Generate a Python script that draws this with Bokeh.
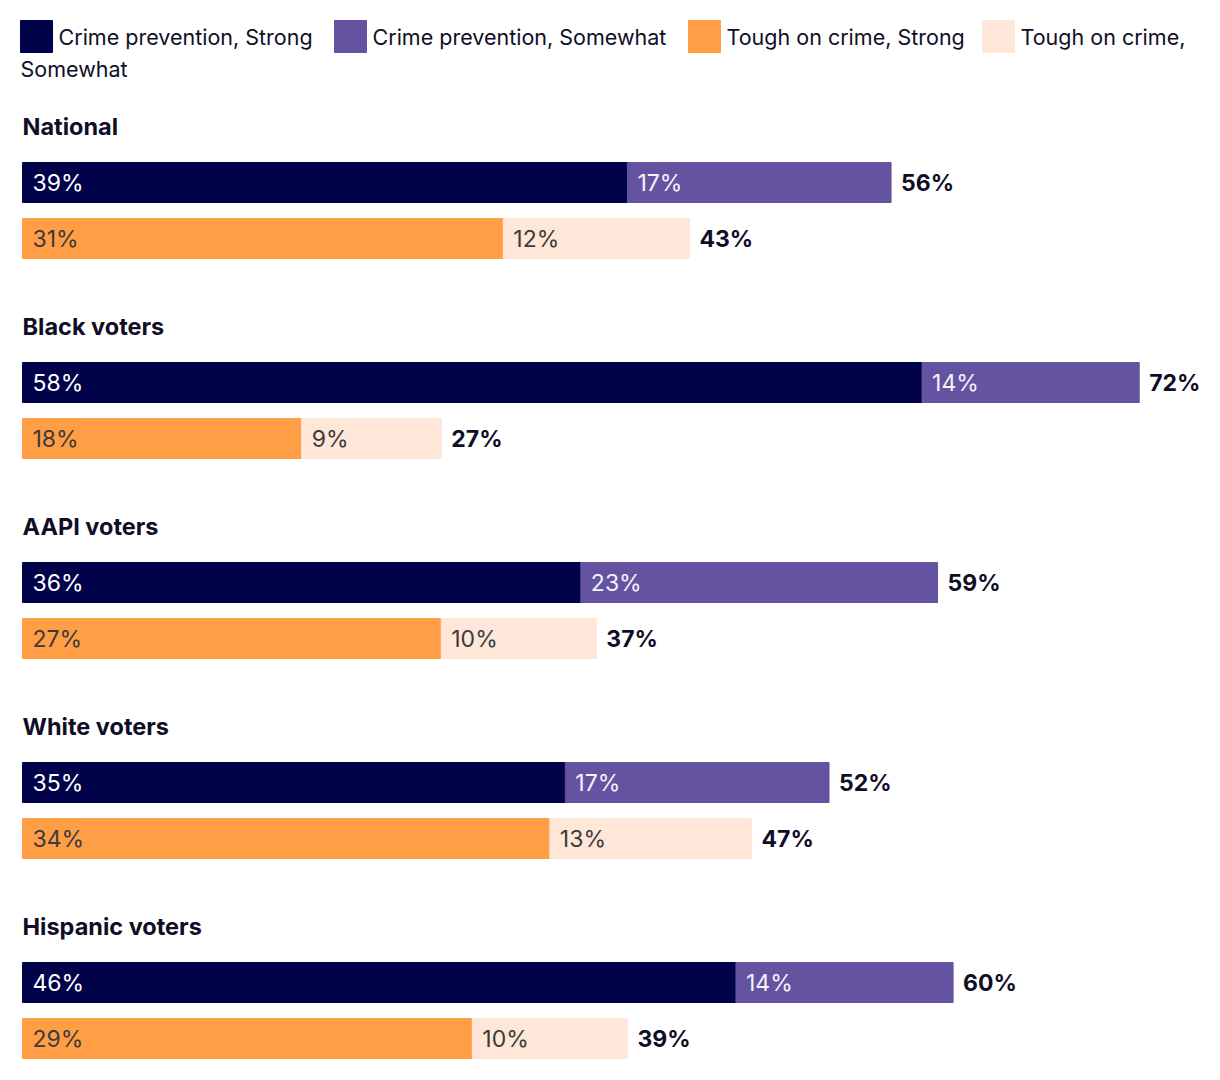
from bokeh.plotting import figure
from bokeh.models import Range1d, ColumnDataSource
from bokeh.core.properties import value
from bokeh.embed import file_html
from bokeh.resources import INLINE

# ---- data ----
groups = ["National", "Black voters", "AAPI voters", "White voters", "Hispanic voters"]
cp_strong = [39, 58, 36, 35, 46]
cp_some = [17, 14, 23, 17, 14]
toc_strong = [31, 18, 27, 34, 29]
toc_some = [12, 9, 10, 13, 10]
cp_total = [56, 72, 59, 52, 60]
toc_total = [43, 27, 37, 47, 39]
legend_labels = ["Crime prevention, Strong", "Crime prevention, Somewhat",
                 "Tough on crime, Strong", "Tough on crime,"]
legend_wrap = "Somewhat"

# ---- style ----
C_NAVY = "#00034a"
C_PURPLE = "#6453a0"
C_ORANGE = "#ff9e45"
C_PEACH = "#fee6d9"
C_TEXT = "#0f0e26"
C_GRAY = "#3b3b3b"
FONT = "Inter"

W, H = 1220, 1080
S = 15.51          # px per percent
X0 = 22            # px of 0%

def px(xp):
    return (xp - X0) / S

p = figure(width=W, height=H, output_backend="svg", toolbar_location=None,
           x_range=Range1d(px(0), px(W)), y_range=Range1d(H, 0),
           min_border=0, outline_line_color=None, background_fill_color="white")
p.axis.visible = False
p.grid.visible = False

bar_h = 40
pad = 10 / S

rows = []
for i, g in enumerate(groups):
    base = 200 * i
    rows.append(dict(y=182 + base, segs=[(0, cp_strong[i], C_NAVY, "white"),
                                         (cp_strong[i], cp_some[i], C_PURPLE, "#f4f2fa")],
                     total=cp_total[i]))
    rows.append(dict(y=238 + base, segs=[(0, toc_strong[i], C_ORANGE, C_GRAY),
                                         (toc_strong[i], toc_some[i], C_PEACH, C_GRAY)],
                     total=toc_total[i]))

bl, br, by, bc = [], [], [], []
lx, ly, lt, lc = [], [], [], []
tx, ty, tt = [], [], []
for r in rows:
    for start, val, col, tcol in r["segs"]:
        bl.append(start); br.append(start + val); by.append(r["y"]); bc.append(col)
        lx.append(start + pad); ly.append(r["y"]); lt.append(f"{val}%"); lc.append(tcol)
    tx.append(r["total"] + pad); ty.append(r["y"]); tt.append(f"{r['total']}%")

p.hbar(y="y", left="l", right="r", height=bar_h, color="c",
       source=ColumnDataSource(dict(y=by, l=bl, r=br, c=bc)))
p.text(x="x", y="y", text="t", text_color="c", text_font=value(FONT),
       text_font_size="23px", text_baseline="middle", text_align="left",
       source=ColumnDataSource(dict(x=lx, y=ly, t=lt, c=lc)))
p.text(x="x", y="y", text="t", text_color=C_TEXT, text_font=value(FONT),
       text_font_size="23px", text_font_style="bold", text_baseline="middle",
       source=ColumnDataSource(dict(x=tx, y=ty, t=tt)))

# group titles
p.text(x=[px(22)] * len(groups), y=[125.5 + 200 * i for i in range(len(groups))],
       text=groups, text_color=C_TEXT, text_font=value(FONT), text_font_size="23.5px",
       text_font_style="bold", text_baseline="middle")

# legend
sq_x = [20, 334, 688, 982]
sq_c = [C_NAVY, C_PURPLE, C_ORANGE, C_PEACH]
p.quad(left=[px(x) for x in sq_x], right=[px(x + 32) for x in sq_x],
       top=[20] * 4, bottom=[52] * 4, color=sq_c)
p.text(x=[px(x + 38) for x in sq_x] + [px(20)], y=[36] * 4 + [68],
       text=legend_labels + [legend_wrap], text_color=C_TEXT, text_font=value(FONT),
       text_font_size="21.5px", text_baseline="middle")

open("out.html", "w").write(file_html(p, INLINE))
